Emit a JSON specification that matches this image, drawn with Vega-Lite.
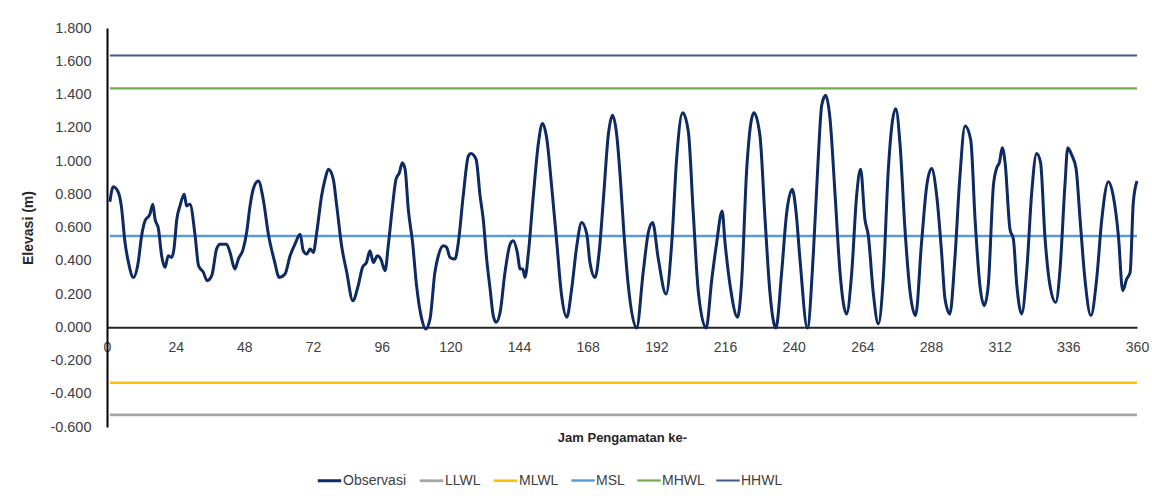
{
  "$schema": "https://vega.github.io/schema/vega-lite/v6.json",
  "width": 1030,
  "height": 399,
  "autosize": {"type": "none"},
  "padding": {"left": 107, "top": 28, "right": 15, "bottom": 69},
  "background": "white",
  "config": {
    "view": {"stroke": null},
    "font": "Liberation Sans"
  },
  "data": {
    "values": [
      {"series": "HHWL", "hour": 1, "value": 1.635},
      {"series": "HHWL", "hour": 360, "value": 1.635},
      {"series": "MHWL", "hour": 1, "value": 1.437},
      {"series": "MHWL", "hour": 360, "value": 1.437},
      {"series": "MSL", "hour": 1, "value": 0.549},
      {"series": "MSL", "hour": 360, "value": 0.549},
      {"series": "MLWL", "hour": 1, "value": -0.334},
      {"series": "MLWL", "hour": 360, "value": -0.334},
      {"series": "LLWL", "hour": 1, "value": -0.527},
      {"series": "LLWL", "hour": 360, "value": -0.527},
      {"series": "Observasi", "hour": 1, "value": 0.755},
      {"series": "Observasi", "hour": 2.2, "value": 0.845},
      {"series": "Observasi", "hour": 4, "value": 0.81},
      {"series": "Observasi", "hour": 5, "value": 0.73},
      {"series": "Observasi", "hour": 6.3, "value": 0.51},
      {"series": "Observasi", "hour": 7.5, "value": 0.39},
      {"series": "Observasi", "hour": 9.2, "value": 0.3},
      {"series": "Observasi", "hour": 10.9, "value": 0.39},
      {"series": "Observasi", "hour": 12.1, "value": 0.55},
      {"series": "Observasi", "hour": 13.3, "value": 0.64},
      {"series": "Observasi", "hour": 15, "value": 0.68},
      {"series": "Observasi", "hour": 16, "value": 0.74},
      {"series": "Observasi", "hour": 16.8, "value": 0.65},
      {"series": "Observasi", "hour": 18, "value": 0.59},
      {"series": "Observasi", "hour": 19.1, "value": 0.43},
      {"series": "Observasi", "hour": 20.3, "value": 0.36},
      {"series": "Observasi", "hour": 21.4, "value": 0.43},
      {"series": "Observasi", "hour": 22.6, "value": 0.42},
      {"series": "Observasi", "hour": 23.4, "value": 0.47},
      {"series": "Observasi", "hour": 24.4, "value": 0.65},
      {"series": "Observasi", "hour": 25.5, "value": 0.73},
      {"series": "Observasi", "hour": 27, "value": 0.8},
      {"series": "Observasi", "hour": 27.8, "value": 0.73},
      {"series": "Observasi", "hour": 29, "value": 0.74},
      {"series": "Observasi", "hour": 30.8, "value": 0.55},
      {"series": "Observasi", "hour": 32, "value": 0.37},
      {"series": "Observasi", "hour": 33.7, "value": 0.33},
      {"series": "Observasi", "hour": 35, "value": 0.28},
      {"series": "Observasi", "hour": 36.6, "value": 0.31},
      {"series": "Observasi", "hour": 38.3, "value": 0.47},
      {"series": "Observasi", "hour": 39.5, "value": 0.5},
      {"series": "Observasi", "hour": 41.8, "value": 0.5},
      {"series": "Observasi", "hour": 43, "value": 0.45},
      {"series": "Observasi", "hour": 44.7, "value": 0.35},
      {"series": "Observasi", "hour": 45.9, "value": 0.41},
      {"series": "Observasi", "hour": 47.6, "value": 0.47},
      {"series": "Observasi", "hour": 48.8, "value": 0.57},
      {"series": "Observasi", "hour": 50, "value": 0.73},
      {"series": "Observasi", "hour": 51.1, "value": 0.83},
      {"series": "Observasi", "hour": 52.9, "value": 0.88},
      {"series": "Observasi", "hour": 54.6, "value": 0.77},
      {"series": "Observasi", "hour": 56.4, "value": 0.56},
      {"series": "Observasi", "hour": 58.5, "value": 0.4},
      {"series": "Observasi", "hour": 60.2, "value": 0.3},
      {"series": "Observasi", "hour": 62.2, "value": 0.32},
      {"series": "Observasi", "hour": 64, "value": 0.43},
      {"series": "Observasi", "hour": 65.7, "value": 0.5},
      {"series": "Observasi", "hour": 67.5, "value": 0.56},
      {"series": "Observasi", "hour": 68.6, "value": 0.46},
      {"series": "Observasi", "hour": 69.8, "value": 0.44},
      {"series": "Observasi", "hour": 71, "value": 0.47},
      {"series": "Observasi", "hour": 72.1, "value": 0.45},
      {"series": "Observasi", "hour": 73.3, "value": 0.57},
      {"series": "Observasi", "hour": 75, "value": 0.79},
      {"series": "Observasi", "hour": 76.2, "value": 0.89},
      {"series": "Observasi", "hour": 77.4, "value": 0.95},
      {"series": "Observasi", "hour": 79.1, "value": 0.89},
      {"series": "Observasi", "hour": 80.3, "value": 0.73},
      {"series": "Observasi", "hour": 82, "value": 0.49},
      {"series": "Observasi", "hour": 83.8, "value": 0.33},
      {"series": "Observasi", "hour": 85.9, "value": 0.16},
      {"series": "Observasi", "hour": 87.8, "value": 0.25},
      {"series": "Observasi", "hour": 89.3, "value": 0.36},
      {"series": "Observasi", "hour": 90.7, "value": 0.39},
      {"series": "Observasi", "hour": 91.9, "value": 0.46},
      {"series": "Observasi", "hour": 93.1, "value": 0.39},
      {"series": "Observasi", "hour": 94.5, "value": 0.43},
      {"series": "Observasi", "hour": 95.7, "value": 0.41},
      {"series": "Observasi", "hour": 97.2, "value": 0.34},
      {"series": "Observasi", "hour": 98.3, "value": 0.49},
      {"series": "Observasi", "hour": 99.8, "value": 0.73},
      {"series": "Observasi", "hour": 101, "value": 0.89},
      {"series": "Observasi", "hour": 102.2, "value": 0.93},
      {"series": "Observasi", "hour": 103.2, "value": 0.99},
      {"series": "Observasi", "hour": 104.2, "value": 0.95},
      {"series": "Observasi", "hour": 105.3, "value": 0.71},
      {"series": "Observasi", "hour": 106.8, "value": 0.51},
      {"series": "Observasi", "hour": 108.2, "value": 0.25},
      {"series": "Observasi", "hour": 110, "value": 0.05},
      {"series": "Observasi", "hour": 111.4, "value": -0.01},
      {"series": "Observasi", "hour": 112.9, "value": 0.05},
      {"series": "Observasi", "hour": 114.6, "value": 0.33},
      {"series": "Observasi", "hour": 115.8, "value": 0.43},
      {"series": "Observasi", "hour": 117.5, "value": 0.49},
      {"series": "Observasi", "hour": 118.7, "value": 0.48},
      {"series": "Observasi", "hour": 119.9, "value": 0.42},
      {"series": "Observasi", "hour": 121.6, "value": 0.41},
      {"series": "Observasi", "hour": 122.8, "value": 0.51},
      {"series": "Observasi", "hour": 124.5, "value": 0.79},
      {"series": "Observasi", "hour": 126.3, "value": 1.03},
      {"series": "Observasi", "hour": 127.2, "value": 1.045},
      {"series": "Observasi", "hour": 129, "value": 1.01},
      {"series": "Observasi", "hour": 130.4, "value": 0.79},
      {"series": "Observasi", "hour": 131.5, "value": 0.65},
      {"series": "Observasi", "hour": 132.7, "value": 0.41},
      {"series": "Observasi", "hour": 133.9, "value": 0.23},
      {"series": "Observasi", "hour": 135, "value": 0.07},
      {"series": "Observasi", "hour": 136, "value": 0.03},
      {"series": "Observasi", "hour": 137.4, "value": 0.09},
      {"series": "Observasi", "hour": 139.1, "value": 0.33},
      {"series": "Observasi", "hour": 140.9, "value": 0.5},
      {"series": "Observasi", "hour": 142, "value": 0.52},
      {"series": "Observasi", "hour": 143.4, "value": 0.45},
      {"series": "Observasi", "hour": 144.4, "value": 0.35},
      {"series": "Observasi", "hour": 145.3, "value": 0.35},
      {"series": "Observasi", "hour": 146.1, "value": 0.3},
      {"series": "Observasi", "hour": 147.3, "value": 0.45},
      {"series": "Observasi", "hour": 149, "value": 0.79},
      {"series": "Observasi", "hour": 150.8, "value": 1.11},
      {"series": "Observasi", "hour": 152.2, "value": 1.225},
      {"series": "Observasi", "hour": 153.7, "value": 1.135},
      {"series": "Observasi", "hour": 155.4, "value": 0.85},
      {"series": "Observasi", "hour": 157.2, "value": 0.51},
      {"series": "Observasi", "hour": 158.9, "value": 0.19},
      {"series": "Observasi", "hour": 160.7, "value": 0.06},
      {"series": "Observasi", "hour": 162.4, "value": 0.23},
      {"series": "Observasi", "hour": 164.2, "value": 0.49},
      {"series": "Observasi", "hour": 165.9, "value": 0.63},
      {"series": "Observasi", "hour": 167.7, "value": 0.56},
      {"series": "Observasi", "hour": 168.8, "value": 0.39},
      {"series": "Observasi", "hour": 170.6, "value": 0.3},
      {"series": "Observasi", "hour": 172, "value": 0.45},
      {"series": "Observasi", "hour": 173.5, "value": 0.77},
      {"series": "Observasi", "hour": 175.2, "value": 1.155},
      {"series": "Observasi", "hour": 176.7, "value": 1.275},
      {"series": "Observasi", "hour": 178.2, "value": 1.15},
      {"series": "Observasi", "hour": 179.4, "value": 0.9},
      {"series": "Observasi", "hour": 180.5, "value": 0.61},
      {"series": "Observasi", "hour": 182.2, "value": 0.25},
      {"series": "Observasi", "hour": 185.1, "value": -0.005},
      {"series": "Observasi", "hour": 187.4, "value": 0.33},
      {"series": "Observasi", "hour": 189.2, "value": 0.57},
      {"series": "Observasi", "hour": 190.7, "value": 0.63},
      {"series": "Observasi", "hour": 192.7, "value": 0.41},
      {"series": "Observasi", "hour": 195.4, "value": 0.2},
      {"series": "Observasi", "hour": 197.4, "value": 0.51},
      {"series": "Observasi", "hour": 199.1, "value": 1.015},
      {"series": "Observasi", "hour": 201.2, "value": 1.29},
      {"series": "Observasi", "hour": 203.2, "value": 1.175},
      {"series": "Observasi", "hour": 204.9, "value": 0.69},
      {"series": "Observasi", "hour": 206.7, "value": 0.21},
      {"series": "Observasi", "hour": 209.4, "value": -0.005},
      {"series": "Observasi", "hour": 211.4, "value": 0.29},
      {"series": "Observasi", "hour": 213.1, "value": 0.51},
      {"series": "Observasi", "hour": 215, "value": 0.7},
      {"series": "Observasi", "hour": 216, "value": 0.51},
      {"series": "Observasi", "hour": 217.8, "value": 0.25},
      {"series": "Observasi", "hour": 220.4, "value": 0.06},
      {"series": "Observasi", "hour": 221.8, "value": 0.27},
      {"series": "Observasi", "hour": 223.6, "value": 0.955},
      {"series": "Observasi", "hour": 226.1, "value": 1.29},
      {"series": "Observasi", "hour": 228.2, "value": 1.155},
      {"series": "Observasi", "hour": 230, "value": 0.65},
      {"series": "Observasi", "hour": 231.7, "value": 0.21},
      {"series": "Observasi", "hour": 233.8, "value": -0.005},
      {"series": "Observasi", "hour": 235.8, "value": 0.33},
      {"series": "Observasi", "hour": 237.5, "value": 0.68},
      {"series": "Observasi", "hour": 239.5, "value": 0.83},
      {"series": "Observasi", "hour": 240.8, "value": 0.7},
      {"series": "Observasi", "hour": 242.2, "value": 0.41},
      {"series": "Observasi", "hour": 244.8, "value": -0.005},
      {"series": "Observasi", "hour": 246.9, "value": 0.45},
      {"series": "Observasi", "hour": 248.7, "value": 1.055},
      {"series": "Observasi", "hour": 249.8, "value": 1.335},
      {"series": "Observasi", "hour": 251.2, "value": 1.395},
      {"series": "Observasi", "hour": 252.7, "value": 1.255},
      {"series": "Observasi", "hour": 254.5, "value": 0.79},
      {"series": "Observasi", "hour": 256.2, "value": 0.33},
      {"series": "Observasi", "hour": 258.5, "value": 0.08},
      {"series": "Observasi", "hour": 260.3, "value": 0.33},
      {"series": "Observasi", "hour": 262, "value": 0.79},
      {"series": "Observasi", "hour": 263.4, "value": 0.95},
      {"series": "Observasi", "hour": 264.9, "value": 0.65},
      {"series": "Observasi", "hour": 266.1, "value": 0.55},
      {"series": "Observasi", "hour": 267.8, "value": 0.21},
      {"series": "Observasi", "hour": 269.6, "value": 0.02},
      {"series": "Observasi", "hour": 271.3, "value": 0.29},
      {"series": "Observasi", "hour": 273.1, "value": 0.955},
      {"series": "Observasi", "hour": 275.7, "value": 1.315},
      {"series": "Observasi", "hour": 277.2, "value": 1.095},
      {"series": "Observasi", "hour": 278.9, "value": 0.59},
      {"series": "Observasi", "hour": 280.7, "value": 0.21},
      {"series": "Observasi", "hour": 282.6, "value": 0.07},
      {"series": "Observasi", "hour": 284.7, "value": 0.51},
      {"series": "Observasi", "hour": 286.5, "value": 0.85},
      {"series": "Observasi", "hour": 288.2, "value": 0.955},
      {"series": "Observasi", "hour": 290, "value": 0.79},
      {"series": "Observasi", "hour": 291.7, "value": 0.45},
      {"series": "Observasi", "hour": 292.9, "value": 0.17},
      {"series": "Observasi", "hour": 294.6, "value": 0.08},
      {"series": "Observasi", "hour": 296.3, "value": 0.4},
      {"series": "Observasi", "hour": 298, "value": 0.88},
      {"series": "Observasi", "hour": 299.9, "value": 1.21},
      {"series": "Observasi", "hour": 301.9, "value": 1.125},
      {"series": "Observasi", "hour": 303.4, "value": 0.65},
      {"series": "Observasi", "hour": 305.1, "value": 0.25},
      {"series": "Observasi", "hour": 306.6, "value": 0.13},
      {"series": "Observasi", "hour": 308, "value": 0.25},
      {"series": "Observasi", "hour": 309.8, "value": 0.85},
      {"series": "Observasi", "hour": 311, "value": 0.96},
      {"series": "Observasi", "hour": 311.9, "value": 0.99},
      {"series": "Observasi", "hour": 312.9, "value": 1.08},
      {"series": "Observasi", "hour": 313.9, "value": 0.99},
      {"series": "Observasi", "hour": 315.6, "value": 0.59},
      {"series": "Observasi", "hour": 316.8, "value": 0.53},
      {"series": "Observasi", "hour": 318, "value": 0.25},
      {"series": "Observasi", "hour": 319.7, "value": 0.08},
      {"series": "Observasi", "hour": 321.5, "value": 0.35},
      {"series": "Observasi", "hour": 323.2, "value": 0.81},
      {"series": "Observasi", "hour": 324.9, "value": 1.045},
      {"series": "Observasi", "hour": 326.3, "value": 0.99},
      {"series": "Observasi", "hour": 327.8, "value": 0.55},
      {"series": "Observasi", "hour": 329.6, "value": 0.25},
      {"series": "Observasi", "hour": 331.6, "value": 0.15},
      {"series": "Observasi", "hour": 333.1, "value": 0.35},
      {"series": "Observasi", "hour": 334.8, "value": 0.85},
      {"series": "Observasi", "hour": 335.8, "value": 1.08},
      {"series": "Observasi", "hour": 337.2, "value": 1.035},
      {"series": "Observasi", "hour": 338.7, "value": 0.955},
      {"series": "Observasi", "hour": 340.1, "value": 0.65},
      {"series": "Observasi", "hour": 341.8, "value": 0.29},
      {"series": "Observasi", "hour": 343.9, "value": 0.07},
      {"series": "Observasi", "hour": 345.9, "value": 0.29},
      {"series": "Observasi", "hour": 347.7, "value": 0.65},
      {"series": "Observasi", "hour": 350, "value": 0.875},
      {"series": "Observasi", "hour": 351.7, "value": 0.79},
      {"series": "Observasi", "hour": 353.5, "value": 0.55},
      {"series": "Observasi", "hour": 355, "value": 0.22},
      {"series": "Observasi", "hour": 356.4, "value": 0.29},
      {"series": "Observasi", "hour": 357.6, "value": 0.33},
      {"series": "Observasi", "hour": 358.7, "value": 0.75},
      {"series": "Observasi", "hour": 360, "value": 0.88}
    ]
  },
  "mark": {"type": "line", "interpolate": "monotone"},
  "encoding": {
    "x": {
      "field": "hour",
      "type": "quantitative",
      "scale": {"domain": [0, 360], "nice": false, "zero": false},
      "axis": {
        "title": "Jam Pengamatan ke-",
        "values": [0, 24, 48, 72, 96, 120, 144, 168, 192, 216, 240, 264, 288, 312, 336, 360],
        "format": "d",
        "offset": -99.75,
        "grid": false,
        "ticks": false,
        "domainColor": "#262626",
        "domainWidth": 2,
        "labelFontSize": 14,
        "labelColor": "#404040",
        "labelPadding": 13,
        "labelOverlap": false,
        "labelFlush": false,
        "titleFontSize": 13,
        "titleFontWeight": "bold",
        "titleColor": "#262626",
        "titlePadding": 77
      }
    },
    "y": {
      "field": "value",
      "type": "quantitative",
      "scale": {"domain": [-0.6, 1.8], "nice": false, "zero": false},
      "axis": {
        "title": "Elevasi (m)",
        "values": [-0.6, -0.4, -0.2, 0, 0.2, 0.4, 0.6, 0.8, 1.0, 1.2, 1.4, 1.6, 1.8],
        "labelExpr": "replace(format(datum.value, '.3f'), '−', '-')",
        "grid": false,
        "ticks": false,
        "domainColor": "#000000",
        "domainWidth": 2,
        "labelFontSize": 14.5,
        "labelColor": "#404040",
        "labelPadding": 16,
        "titleFontSize": 14,
        "titleFontWeight": "bold",
        "titleColor": "#262626",
        "titlePadding": 14
      }
    },
    "color": {
      "field": "series",
      "type": "nominal",
      "scale": {
        "domain": ["Observasi", "LLWL", "MLWL", "MSL", "MHWL", "HHWL"],
        "range": ["#0e2a62", "#a6a6a6", "#ffc000", "#5b9bd5", "#70ad47", "#44588a"]
      },
      "legend": {
        "title": null,
        "orient": "none",
        "direction": "horizontal",
        "legendX": 209,
        "legendY": 439,
        "symbolType": "stroke",
        "symbolSize": 550,
        "symbolStrokeWidth": 2.5,
        "labelFontSize": 14,
        "labelColor": "#404040",
        "labelOffset": 0,
        "columnPadding": 7,
        "padding": 0
      }
    },
    "strokeWidth": {
      "field": "series",
      "type": "nominal",
      "scale": {
        "domain": ["Observasi", "LLWL", "MLWL", "MSL", "MHWL", "HHWL"],
        "range": [3, 2, 2, 2, 2, 2]
      },
      "legend": null
    },
    "order": {"field": "hour", "type": "quantitative"}
  }
}
